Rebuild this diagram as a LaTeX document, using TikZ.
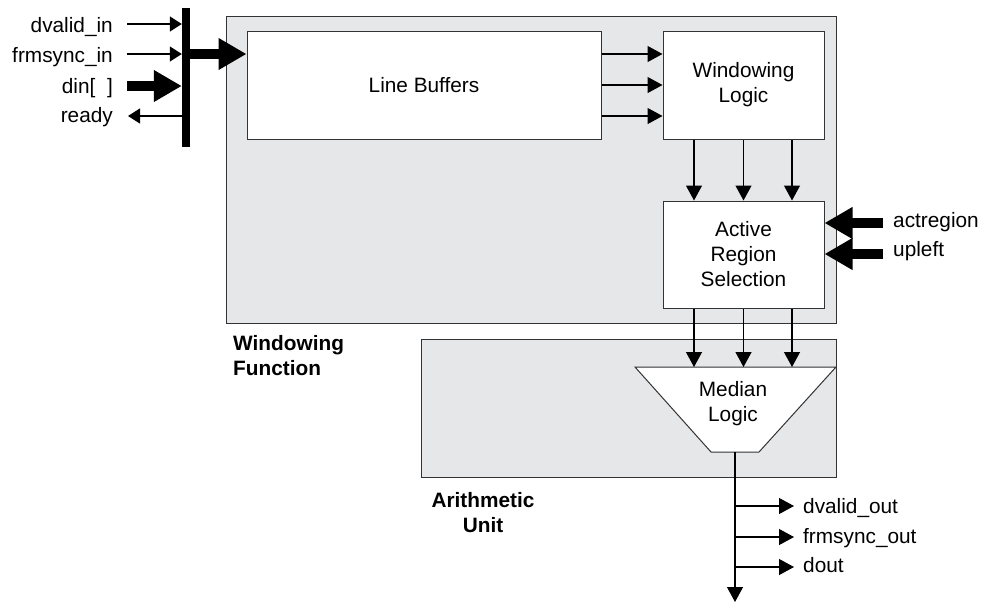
\documentclass[tikz,border=0pt]{standalone}
\usepackage{fontspec}
\setmainfont{Liberation Sans}
\usetikzlibrary{arrows.meta,calc}
\definecolor{boxgray}{HTML}{E6E7E8}
\definecolor{edge}{HTML}{333333}
\tikzset{
  box/.style={draw=edge, line width=1pt, fill=white, inner sep=0pt, align=center},
  area/.style={draw=edge, line width=1pt, fill=boxgray, inner sep=0pt},
  trap/.style={draw=edge, line width=1pt, fill=white},
  thinarr/.style={line width=1.2pt, -{Triangle[length=15pt,width=16pt]}},
  smallarr/.style={line width=1.2pt, -{Triangle[length=12pt,width=15pt]}},
  thickarr/.style={line width=10pt, -{Triangle[length=28pt,width=30pt]}},
  lbl/.style={inner sep=0pt},
  grp/.style={inner sep=0pt, align=center, font=\fontsize{20.8}{25}\selectfont\bfseries},
}
\begin{document}
\begin{tikzpicture}[x=1pt,y=-1pt,font=\fontsize{20.8}{25}\selectfont]
\useasboundingbox (0,0) rectangle (984,603);
% group areas
\node[area, minimum width=610pt, minimum height=307pt] (wf) at (531,169.5) {};
\node[area, minimum width=415pt, minimum height=138pt] (au) at (628.5,408) {};
% blocks
\node[box, minimum width=354pt, minimum height=108pt] (lb) at (424,85) {Line Buffers};
\node[box, minimum width=161pt, minimum height=108pt] (wl) at (743.5,85) {Windowing\\Logic};
\node[box, minimum width=161pt, minimum height=107pt] (ars) at (743.5,254.5) {Active\\Region\\Selection};
% median logic trapezoid
\draw[trap] (635,367) coordinate (mtl) -- (836,367) coordinate (mtr) -- (759,452) coordinate (mbr) -- (711,452) coordinate (mbl) -- cycle;
\node[lbl, align=center] (ml) at (733,404) {Median\\Logic};
\coordinate (mbot) at (735,452);
% group labels
\node[grp, align=left, anchor=west] (wflbl) at (233,356) {Windowing\\Function};
\node[grp] (aulbl) at (483,513) {Arithmetic\\Unit};
% input bus
\node[fill=black, inner sep=0pt, minimum width=8pt, minimum height=139pt] (bus) at (186,77.5) {};
\node[lbl, anchor=base east] (dvin) at (113,32) {dvalid\_in};
\node[lbl, anchor=base east] (fsin) at (113,62) {frmsync\_in};
\node[lbl, anchor=base east] (din) at (113,93) {din[\ \ ]};
\node[lbl, anchor=base east] (rdy) at (113,122) {ready};
\coordinate (dvs) at (127,24);
\coordinate (fss) at (127,54);
\coordinate (dns) at (127,86);
\coordinate (rde) at (128,116);
\coordinate (busout) at (190,54);
\draw[smallarr] (dvs) -- (dvs -| bus.west);
\draw[smallarr] (fss) -- (fss -| bus.west);
\draw[thickarr] (dns) -- (dns -| bus.west);
\draw[smallarr] (rde -| bus.east) -- (rde);
\draw[thickarr] (busout) -- (busout -| lb.west);
% line buffers -> windowing logic
\foreach \d in {-31,0,31}
  \draw[thinarr] ($(lb.east)+(0,\d)$) -- ($(wl.west)+(0,\d)$);
% windowing logic -> active region
\foreach \d in {-49.5,0,48.5}
  \draw[thinarr] ($(wl.south)+(\d,0)$) -- ($(ars.north)+(\d,0)$);
% active region -> median logic
\foreach \d in {-49.5,0,48.5}{
  \path ($(ars.south)+(\d,0)$) coordinate (tmp);
  \draw[thinarr] (tmp) -- (tmp |- mtl);
}
% side inputs
\coordinate (act) at (883,223);
\coordinate (upl) at (883,254);
\draw[thickarr] (act) -- (act -| ars.east);
\draw[thickarr] (upl) -- (upl -| ars.east);
\node[lbl, anchor=base west] (actl) at (893,227) {actregion};
\node[lbl, anchor=base west] (upll) at (893,256) {upleft};
% outputs
\coordinate (oend) at (735,602);
\draw[thinarr] (mbot) -- (oend);
\coordinate (b1) at (735,506);
\coordinate (b2) at (735,537);
\coordinate (b3) at (735,567);
\coordinate (b1e) at (794,506);
\coordinate (b2e) at (794,537);
\coordinate (b3e) at (794,567);
\draw[thinarr] (b1) -- (b1e);
\draw[thinarr] (b2) -- (b2e);
\draw[thinarr] (b3) -- (b3e);
\node[lbl, anchor=base west] (dvo) at (803,513) {dvalid\_out};
\node[lbl, anchor=base west] (fso) at (803,543) {frmsync\_out};
\node[lbl, anchor=base west] (dou) at (803,572) {dout};
\end{tikzpicture}
\end{document}
